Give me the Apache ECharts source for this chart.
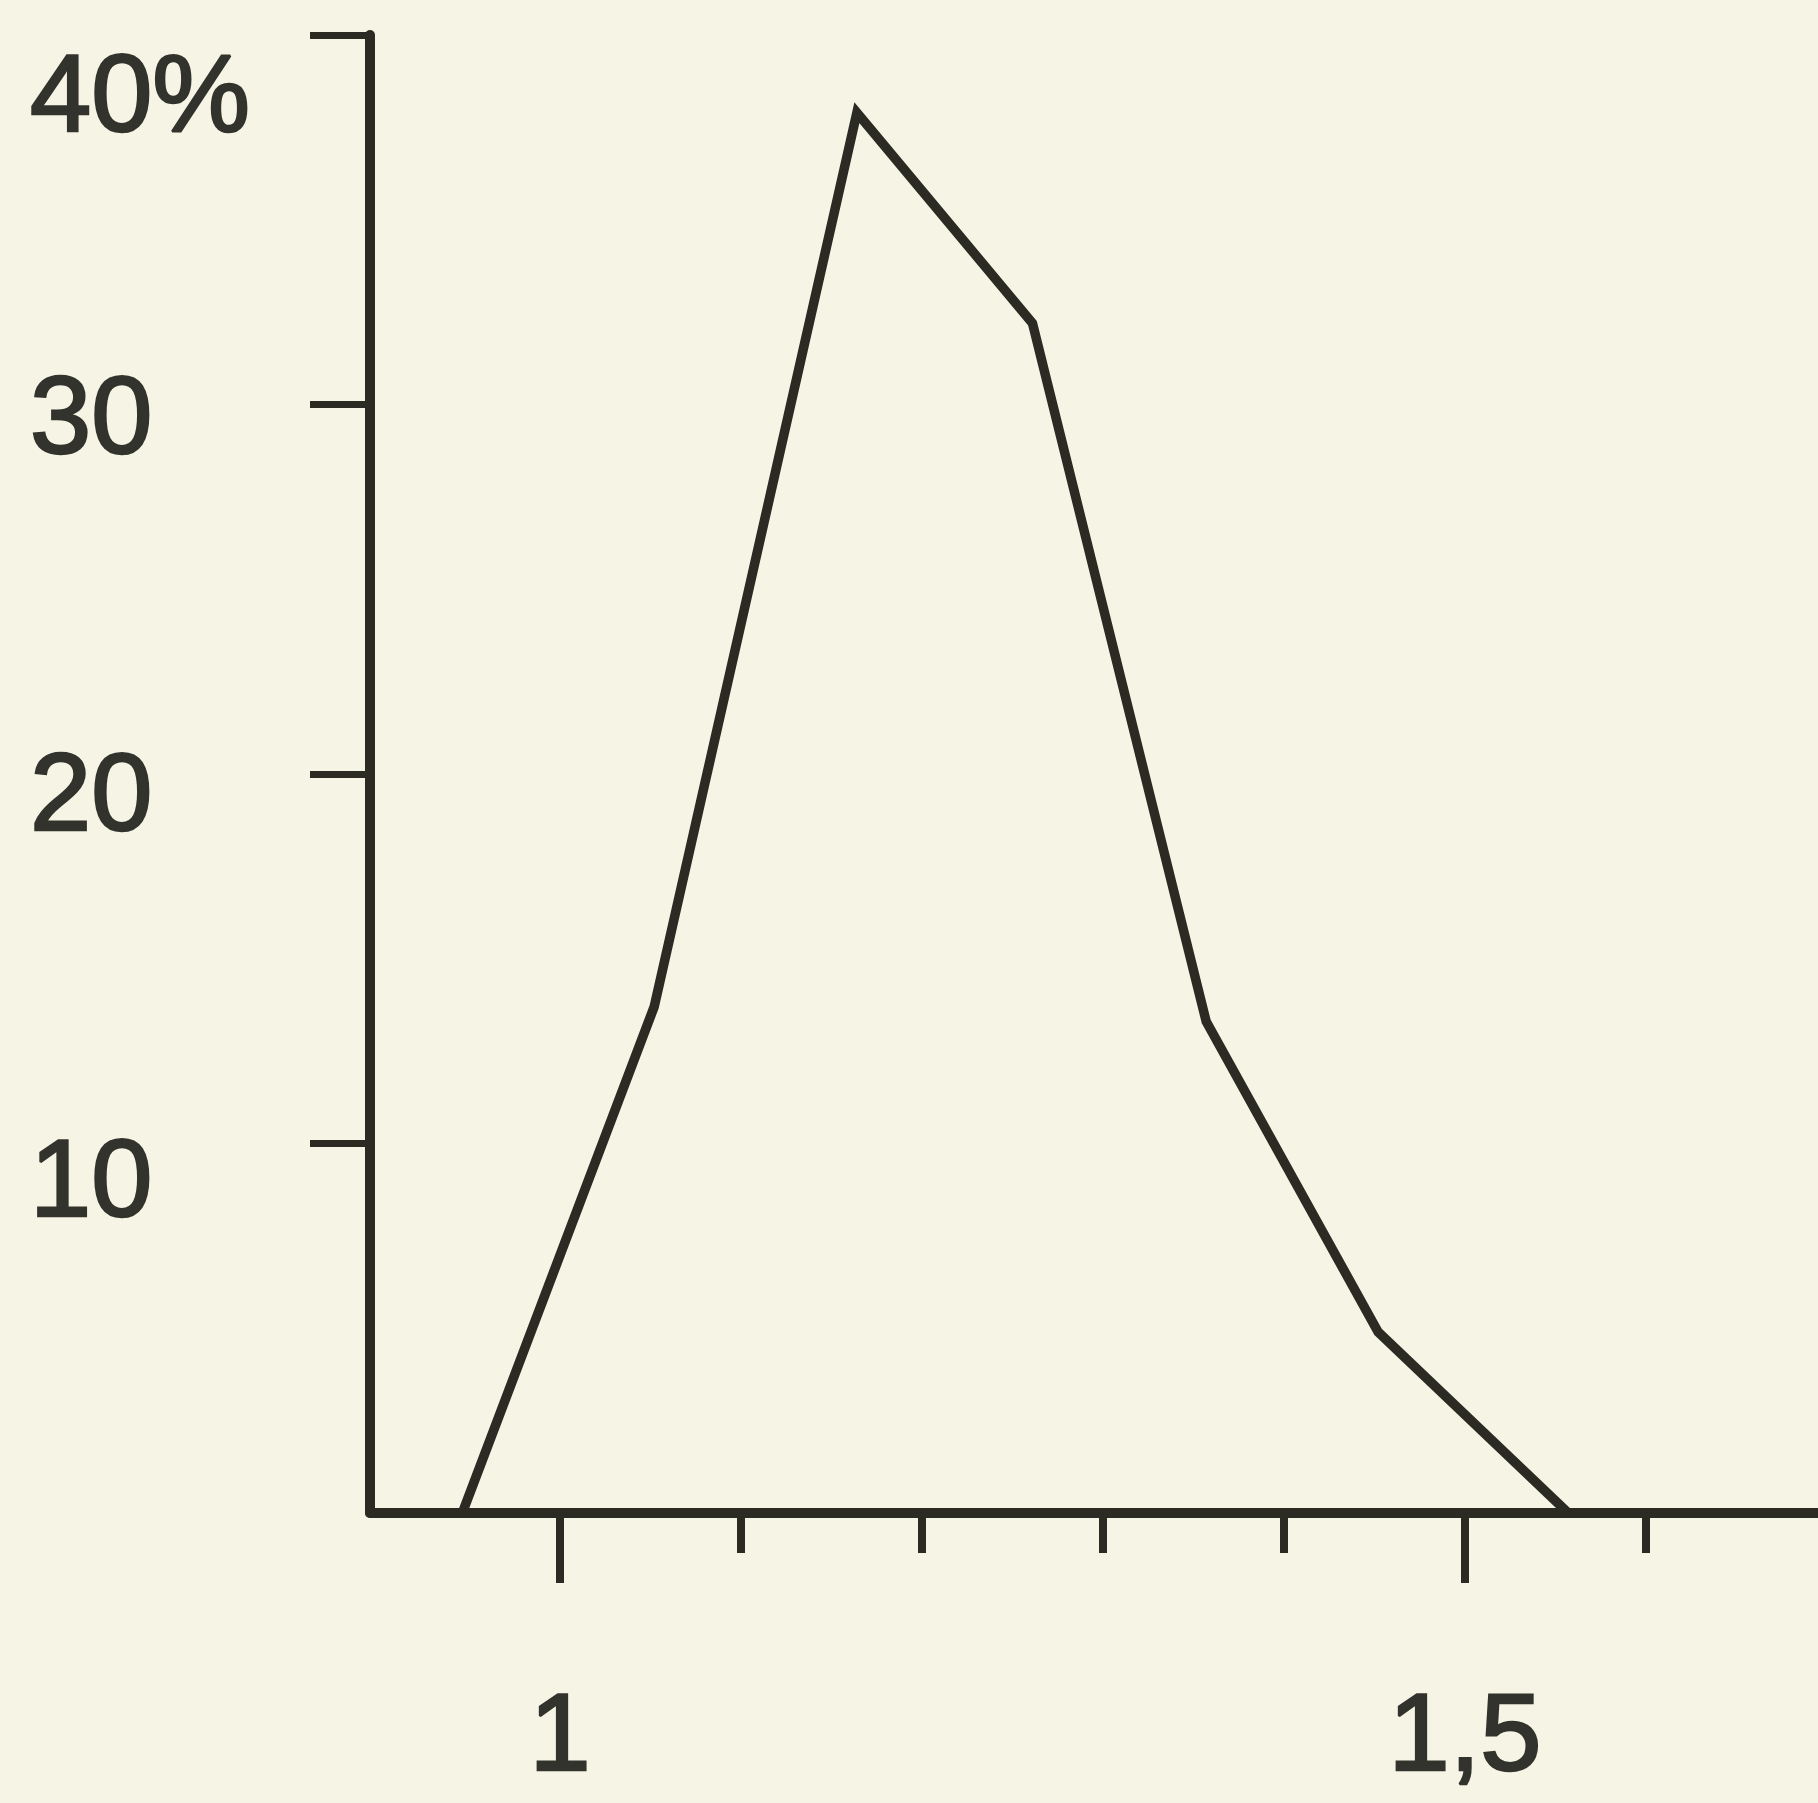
<!DOCTYPE html>
<html>
<head>
<meta charset="utf-8">
<script src="https://cdn.jsdelivr.net/npm/echarts@6/dist/echarts.min.js"></script>
<style>
  html, body { margin: 0; padding: 0; background: #f6f4e5; }
  #chart { width: 1818px; height: 1803px; }
</style>
</head>
<body>
<div id="chart"></div>
<script>
// ---- data ----
const xValues = [0.946, 1.052, 1.164, 1.261, 1.357, 1.452, 1.557];
const shares  = [0, 13.7, 37.9, 32.2, 13.3, 4.9, 0];
const xMinorTicks = [1.1, 1.2, 1.3, 1.4, 1.6];
const xMajorTicks = [1.0, 1.5];
const xTickLabels = ['1', '1,5'];
const yTickValues = [10, 20, 30, 40];
const yTickLabels = ['10', '20', '30', '40%'];

// ---- styling ----
const ink = '#2b2b24';
const textInk = '#33332d';
const font = 'Liberation Sans, Arial, sans-serif';
const fontSize = 110;
// per-label downward shift (px) of the hand-lettered y labels
const yLabelShift = { 10: 42, 20: 26, 30: 18, 40: 66 };

const rich = {};
yTickValues.forEach(v => {
  rich['t' + v] = {
    fontFamily: font, fontSize: fontSize, color: textInk,
    textBorderColor: textInk, textBorderWidth: 2.5,
    padding: [yLabelShift[v] * 2, 0, 0, 0]
  };
});

const chart = echarts.init(document.getElementById('chart'), null, { renderer: 'canvas' });
chart.setOption({
  backgroundColor: '#f6f4e5',
  animation: false,
  grid: { left: 370, right: 0, top: 35, bottom: 290, outerBoundsMode: 'none', containLabel: false },
  xAxis: [
    {
      type: 'value', min: 0.895, max: 1.695,
      axisLine: { show: true, lineStyle: { color: ink, width: 10 } },
      axisTick: { show: true, customValues: xMinorTicks, length: 40, lineStyle: { color: ink, width: 8 } },
      axisLabel: { show: false },
      splitLine: { show: false }
    },
    {
      type: 'value', min: 0.895, max: 1.695, position: 'bottom',
      axisLine: { show: false },
      axisTick: { show: true, customValues: xMajorTicks, length: 70, lineStyle: { color: ink, width: 8 } },
      axisLabel: {
        show: true, customValues: xMajorTicks, margin: 172,
        fontFamily: font, fontSize: fontSize, color: textInk,
        textBorderColor: textInk, textBorderWidth: 2.5,
        formatter: v => xTickLabels[xMajorTicks.findIndex(t => Math.abs(t - v) < 1e-6)] || ''
      },
      splitLine: { show: false }
    }
  ],
  yAxis: {
    type: 'value', min: 0, max: 40, interval: 10,
    axisLine: { show: true, lineStyle: { color: ink, width: 10 } },
    axisTick: { show: true, customValues: yTickValues, length: 60, lineStyle: { color: ink, width: 7 } },
    axisLabel: {
      show: true, align: 'left', margin: 340,
      customValues: yTickValues,
      formatter: v => {
        const i = yTickValues.indexOf(v);
        return i < 0 ? '' : '{t' + v + '|' + yTickLabels[i] + '}';
      },
      rich: rich
    },
    splitLine: { show: false }
  },
  series: [{
    type: 'line',
    xAxisIndex: 0,
    data: xValues.map((x, i) => [x, shares[i]]),
    symbol: 'none',
    lineStyle: { color: ink, width: 9.5, join: 'miter', miterLimit: 4 }
  }]
});
</script>
</body>
</html>
